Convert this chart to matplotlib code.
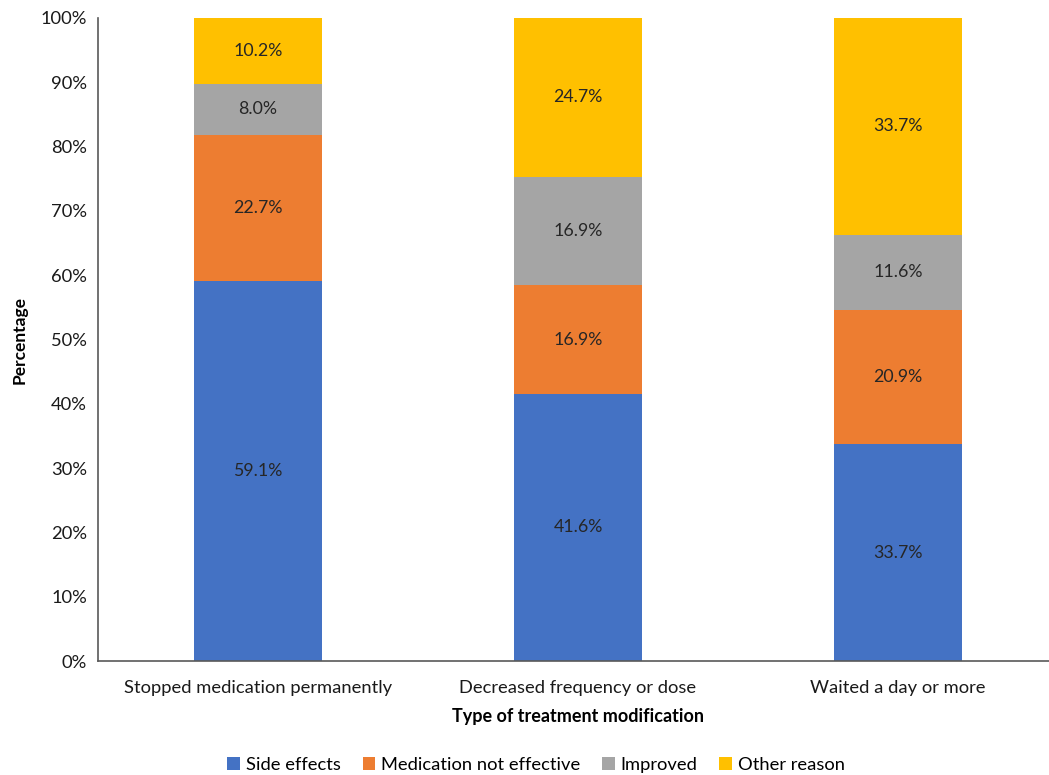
import numpy as np
import matplotlib
matplotlib.use("Agg")
from matplotlib import pyplot as plt

categories = ["Stopped medication permanently", "Decreased frequency or dose", "Waited a day or more"]
series_names = ["Side effects", "Medication not effective", "Improved", "Other reason"]
side_effects = [59.1, 41.6, 33.7]
not_effective = [22.7, 16.9, 20.9]
improved = [8.0, 16.9, 11.6]
other_reason = [10.2, 24.7, 33.7]
colors = ["#4472C4", "#ED7D31", "#A5A5A5", "#FFC000"]

plt.rcParams['font.family'] = ['Lato', 'DejaVu Sans']

data = np.array([side_effects, not_effective, improved, other_reason])
totals = data.sum(axis=0)
shares = data / totals  # 100% stacked

fig = plt.figure(figsize=(10.49, 7.75), dpi=100)
ax = fig.add_axes([98 / 1049, 114 / 775, 960 / 1049, 643 / 775])

x = np.arange(len(categories))
bottom = np.zeros(len(categories))
for i, name in enumerate(series_names):
    ax.bar(x, shares[i], 0.4, bottom=bottom, color=colors[i], label=name)
    for j in range(len(categories)):
        ax.text(x[j], bottom[j] + shares[i][j] / 2, f"{data[i][j]:.1f}%",
                ha="center", va="center", fontsize=12.8, color="#262626")
    bottom += shares[i]

ax.set_xlim(-0.5, 2.5)
ax.set_ylim(0, 1)
ax.set_yticks(np.arange(0, 1.01, 0.1))
ax.set_yticklabels([f"{int(round(v * 100))}%" for v in np.arange(0, 1.01, 0.1)])
ax.set_xticks(x)
ax.set_xticklabels(categories)
ax.tick_params(axis="both", length=0, labelsize=13.2, colors="#1a1a1a", pad=8)
ax.tick_params(axis="x", pad=14)
for s in ["top", "right"]:
    ax.spines[s].set_visible(False)
for s in ["left", "bottom"]:
    ax.spines[s].set_color("#595959")
    ax.spines[s].set_linewidth(1.2)

ax.set_ylabel("Percentage", fontsize=12.5, fontweight="bold", labelpad=9)
ax.set_xlabel("Type of treatment modification", fontsize=13, fontweight="bold", labelpad=8)

fig.legend(loc="center", bbox_to_anchor=(536 / 1049, 1 - 765 / 775), ncol=4, frameon=False,
           fontsize=13.2, handlelength=0.7, handleheight=0.7, handletextpad=0.3, columnspacing=1.2)

fig.savefig("out.png", dpi=100)
